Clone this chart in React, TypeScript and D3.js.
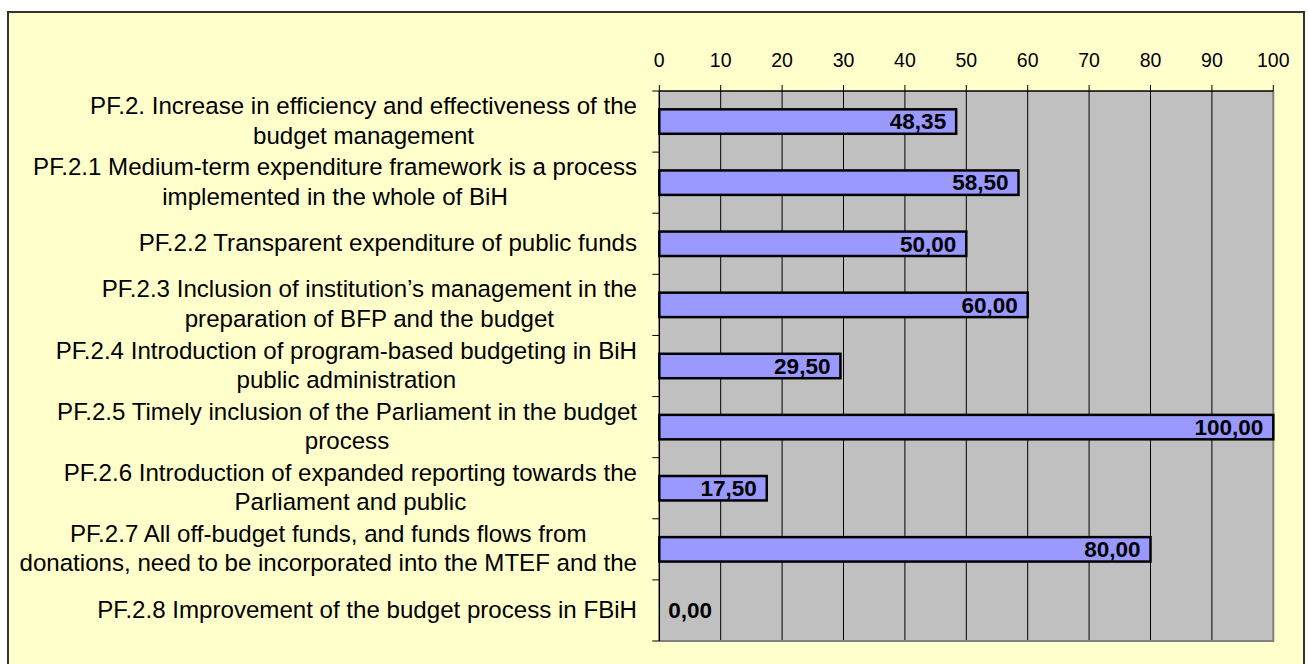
import { useEffect, useRef } from "react";
import * as d3 from "d3";

const categories: string[][] = [
  ["PF.2. Increase in efficiency and effectiveness of the", "budget management"],
  ["PF.2.1 Medium-term expenditure framework is a process", "implemented in the whole of BiH"],
  ["PF.2.2 Transparent expenditure of public funds"],
  ["PF.2.3 Inclusion of institution\u2019s management in the", "preparation of BFP and the budget"],
  ["PF.2.4 Introduction of program-based budgeting in BiH", "public administration"],
  ["PF.2.5 Timely inclusion of the Parliament in the budget", "process"],
  ["PF.2.6 Introduction of expanded reporting towards the", "Parliament and public"],
  ["PF.2.7 All off-budget funds, and funds flows from", "donations, need to be incorporated into the MTEF and the"],
  ["PF.2.8 Improvement of the budget process in FBiH"],
];

const values: number[] = [48.35, 58.5, 50.0, 60.0, 29.5, 100.0, 17.5, 80.0, 0.0];

const xTicks: number[] = [0, 10, 20, 30, 40, 50, 60, 70, 80, 90, 100];

const FONT = "Arial, 'Liberation Sans', sans-serif";

export default function App() {
  const svgRef = useRef<SVGSVGElement>(null);

  useEffect(() => {
    if (!svgRef.current) return;

    // Clear previous chart
    d3.select(svgRef.current).selectAll("*").remove();
    const svg = d3.select(svgRef.current);

    const plot = { left: 659.3, right: 1273.3, top: 91, bottom: 641 };

    // Chart area
    svg
      .append("rect")
      .attr("x", 8)
      .attr("y", 12)
      .attr("width", 1296)
      .attr("height", 664)
      .attr("fill", "#FFFFCC")
      .attr("stroke", "#333")
      .attr("stroke-width", 2);

    // Scales
    const x = d3.scaleLinear().domain([0, 100]).range([plot.left, plot.right]);
    const y = d3
      .scaleBand()
      .domain(categories.map((_, i) => String(i)))
      .range([plot.top, plot.bottom])
      .paddingInner(0.6)
      .paddingOuter(0.3);
    const step = y.step();

    // Plot area background
    svg
      .append("rect")
      .attr("x", plot.left)
      .attr("y", plot.top)
      .attr("width", plot.right - plot.left)
      .attr("height", plot.bottom - plot.top)
      .attr("fill", "#C0C0C0");

    // Gridlines (with the outward ticks above the axis)
    svg
      .append("g")
      .selectAll("line")
      .data(xTicks.slice(1, -1))
      .enter()
      .append("line")
      .attr("x1", (d) => x(d))
      .attr("x2", (d) => x(d))
      .attr("y1", plot.top - 6)
      .attr("y2", plot.bottom)
      .attr("stroke", "#000")
      .attr("stroke-width", 1);

    // plot border, shaded on right/bottom
    svg
      .append("path")
      .attr("d", `M${plot.right},${plot.top}V${plot.bottom}H${plot.left}`)
      .attr("fill", "none")
      .attr("stroke", "#808080")
      .attr("stroke-width", 2);

    svg
      .append("g")
      .selectAll("line")
      .data([0, 100])
      .enter()
      .append("line")
      .attr("x1", (d) => x(d))
      .attr("x2", (d) => x(d))
      .attr("y1", plot.top - 6)
      .attr("y2", plot.top)
      .attr("stroke", "#000");

    // Top axis line
    svg
      .append("line")
      .attr("x1", plot.left)
      .attr("x2", plot.right)
      .attr("y1", plot.top)
      .attr("y2", plot.top)
      .attr("stroke", "#000")
      .attr("stroke-width", 1.5);

    // Tick labels
    svg
      .append("g")
      .selectAll("text")
      .data(xTicks)
      .enter()
      .append("text")
      .attr("x", (d) => x(d))
      .attr("y", 67)
      .attr("text-anchor", "middle")
      .style("font-family", FONT)
      .style("font-size", "19.5px")
      .text((d) => String(d));

    // Bars
    const rows = values.map((v, i) => ({ v, key: String(i) }));
    svg
      .append("g")
      .selectAll("rect")
      .data(rows.filter((r) => r.v > 0))
      .enter()
      .append("rect")
      .attr("x", x(0))
      .attr("y", (r) => y(r.key)!)
      .attr("width", (r) => x(r.v) - x(0))
      .attr("height", y.bandwidth())
      .attr("fill", "#9999FF")
      .attr("stroke", "#000")
      .attr("stroke-width", 2.5);

    // Left axis line + ticks
    svg
      .append("line")
      .attr("x1", plot.left)
      .attr("x2", plot.left)
      .attr("y1", plot.top)
      .attr("y2", plot.bottom)
      .attr("stroke", "#000")
      .attr("stroke-width", 1.5);

    svg
      .append("g")
      .selectAll("line")
      .data(d3.range(categories.length + 1))
      .enter()
      .append("line")
      .attr("x1", plot.left - 7)
      .attr("x2", plot.left)
      .attr("y1", (d) => plot.top + d * step)
      .attr("y2", (d) => plot.top + d * step)
      .attr("stroke", "#000");

    // Value labels (inside end; too short bars get the label at the base)
    const fmt = (v: number) => d3.format(".2f")(v).replace(".", ",");
    svg
      .append("g")
      .selectAll("text")
      .data(rows)
      .enter()
      .append("text")
      .attr("x", (r) => (r.v > 15 ? x(r.v) - 10 : x(0) + 9))
      .attr("y", (r) => y(r.key)! + y.bandwidth() / 2 + 7.8)
      .attr("text-anchor", (r) => (r.v > 15 ? "end" : "start"))
      .style("font-family", FONT)
      .style("font-size", "22.5px")
      .style("font-weight", "bold")
      .text((r) => fmt(r.v));

    // Category labels: block right-aligned, lines centred within the block
    const labelRight = 637;
    const lineH = 29.5;
    categories.forEach((lines, i) => {
      const cy = plot.top + (i + 0.5) * step;
      const g = svg.append("g");
      const texts = lines.map((line, j) =>
        g
          .append("text")
          .attr("y", cy + (j - (lines.length - 1) / 2) * lineH + 7.3)
          .attr("text-anchor", "middle")
          .style("font-family", FONT)
          .style("font-size", "24.1px")
          .text(line)
      );
      const maxW = d3.max(texts, (t) => (t.node() as SVGTextElement).getComputedTextLength()) || 0;
      texts.forEach((t) => t.attr("x", labelRight - maxW / 2));
    });
  }, []);

  return (
    <svg
      ref={svgRef}
      width={1308}
      height={664}
      style={{ position: "absolute", left: 0, top: 0, background: "#fff" }}
    />
  );
}
